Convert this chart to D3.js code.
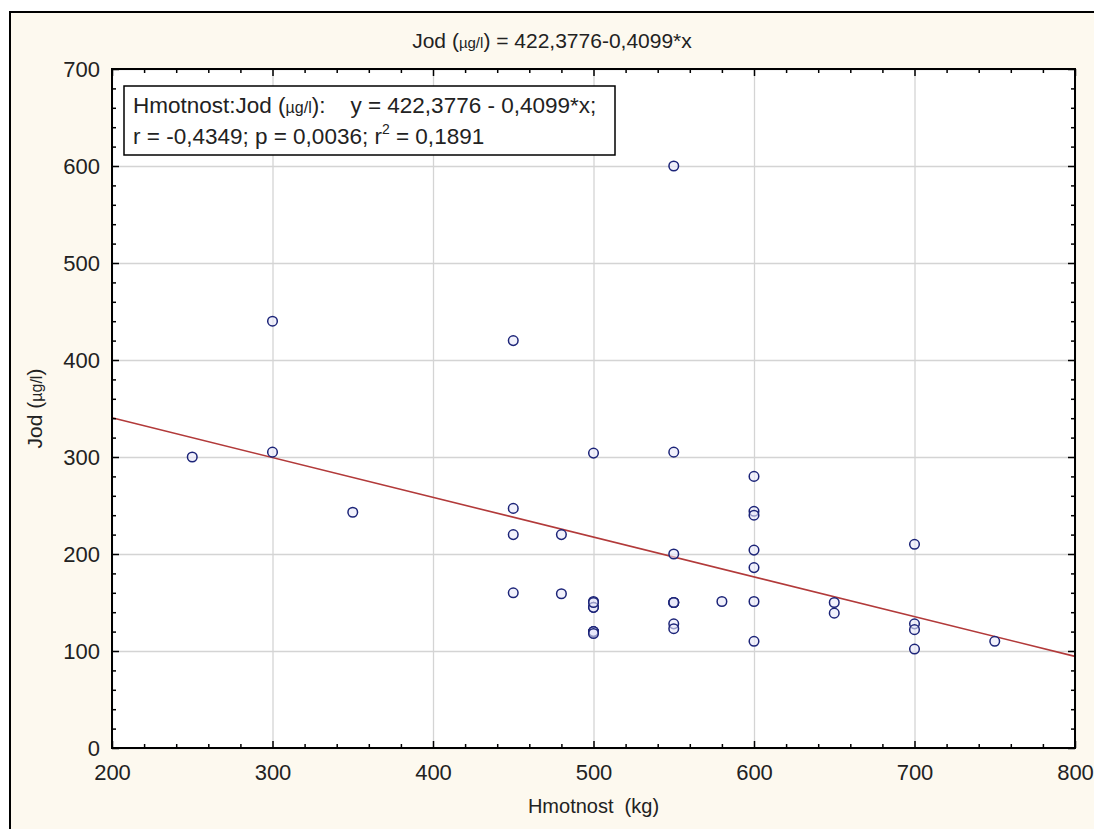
<!DOCTYPE html>
<html>
<head>
<meta charset="utf-8">
<script src="https://cdn.jsdelivr.net/npm/d3@7"></script>
<style>
  body { margin: 0; background: #fff; }
  text { font-family: "Liberation Sans", Arial, sans-serif; fill: #222; }
</style>
</head>
<body>
<svg id="drawing_region"></svg>
<script>
// Hmotnost (kg) vs Jod (ug/l)
const hmotnost = [250, 300, 300, 350, 450, 450, 450, 450, 480, 480,
                  500, 500, 500, 500, 500, 500, 500, 500, 500,
                  550, 550, 550, 550, 550, 550, 550, 550,
                  580, 600, 600, 600, 600, 600, 600, 600,
                  650, 650, 700, 700, 700, 700, 750];
const jod = [300, 440, 305, 243, 420, 247, 220, 160, 220, 159,
             304, 151, 145, 145, 120, 120, 120, 118, 150,
             600, 305, 200, 150, 150, 150, 128, 123,
             151, 280, 244, 240, 204, 186, 151, 110,
             150, 139, 210, 128, 122, 102, 110];
const xTicks = [200, 300, 400, 500, 600, 700, 800];
const yTicks = [0, 100, 200, 300, 400, 500, 600, 700];
const intercept = 422.3776;
const slope = -0.4099;

const config = {
    width: 1094,
    height: 829,
    margin: {top: 69, right: 19, bottom: 81, left: 112}
};

const svg = d3.select('#drawing_region')
    .attr('width', config.width)
    .attr('height', config.height);

// outer panel
svg.append('rect')
    .attr('x', 10).attr('y', 12)
    .attr('width', config.width).attr('height', config.height)
    .attr('fill', '#fdf9ef')
    .attr('stroke', '#000')
    .attr('stroke-width', 2);

const innerW = config.width - config.margin.left - config.margin.right;
const innerH = config.height - config.margin.top - config.margin.bottom;

const chart = svg.append('g')
    .attr('transform', `translate(${config.margin.left}, ${config.margin.top})`);

const xscale = d3.scaleLinear().domain([200, 800]).range([0, innerW]);
const yscale = d3.scaleLinear().domain([0, 700]).range([innerH, 0]);

chart.append('rect')
    .attr('width', innerW).attr('height', innerH)
    .attr('fill', '#fff');

// grid
chart.append('g')
    .attr('transform', `translate(0, ${innerH})`)
    .call(d3.axisBottom(xscale).tickValues(xTicks).tickSize(-innerH).tickFormat(''))
    .call(g => g.select('.domain').remove())
    .selectAll('line').attr('stroke', '#d4d4d4').attr('stroke-width', 1.3);

chart.append('g')
    .call(d3.axisLeft(yscale).tickValues(yTicks).tickSize(-innerW).tickFormat(''))
    .call(g => g.select('.domain').remove())
    .selectAll('line').attr('stroke', '#d4d4d4').attr('stroke-width', 1.3);

// regression line
chart.append('line')
    .attr('x1', xscale(200)).attr('y1', yscale(intercept + slope * 200))
    .attr('x2', xscale(800)).attr('y2', yscale(intercept + slope * 800))
    .attr('stroke', '#b23a3a')
    .attr('stroke-width', 1.6);

// points
chart.selectAll('circle')
    .data(hmotnost.map((d, i) => [d, jod[i]]))
    .enter()
    .append('circle')
    .attr('cx', d => xscale(d[0]))
    .attr('cy', d => yscale(d[1]))
    .attr('r', 4.8)
    .attr('fill', '#e8e8fa')
    .attr('fill-opacity', 0.6)
    .attr('stroke', '#1c2478')
    .attr('stroke-width', 1.5);

// inward ticks on all four sides
const xMinor = d3.range(200, 801, 20).filter(v => !xTicks.includes(v));
const yMinor = d3.range(0, 701, 20).filter(v => !yTicks.includes(v));

function tickAxis(axis, pos, values, size) {
    const g = chart.append('g')
        .attr('transform', pos)
        .call(axis.tickValues(values).tickSize(size).tickFormat('').tickSizeOuter(0));
    g.select('.domain').remove();
    g.selectAll('line').attr('stroke', '#000').attr('stroke-width', 1.5);
}
tickAxis(d3.axisBottom(xscale), `translate(0, ${innerH})`, xMinor, -4);
tickAxis(d3.axisTop(xscale), 'translate(0, 0)', xMinor, -4);
tickAxis(d3.axisTop(xscale), 'translate(0, 0)', xTicks, -7);
tickAxis(d3.axisLeft(yscale), 'translate(0, 0)', yMinor, -4);
tickAxis(d3.axisRight(yscale), `translate(${innerW}, 0)`, yMinor, -4);
tickAxis(d3.axisRight(yscale), `translate(${innerW}, 0)`, yTicks, -7);

// major axes with labels
const xaxis_group = chart.append('g')
    .attr('transform', `translate(0, ${innerH})`)
    .call(d3.axisBottom(xscale).tickValues(xTicks).tickSize(-7).tickSizeOuter(0).tickPadding(16));

const yaxis_group = chart.append('g')
    .call(d3.axisLeft(yscale).tickValues(yTicks).tickSize(-7).tickSizeOuter(0).tickPadding(12));

[xaxis_group, yaxis_group].forEach(g => {
    g.select('.domain').remove();
    g.selectAll('line').attr('stroke', '#000').attr('stroke-width', 1.5);
    g.selectAll('text')
        .attr('font-size', '22px')
        .attr('font-family', '"Liberation Sans", Arial, sans-serif')
        .attr('fill', '#2a2a2a');
});

// frame
chart.append('rect')
    .attr('width', innerW).attr('height', innerH)
    .attr('fill', 'none')
    .attr('stroke', '#000')
    .attr('stroke-width', 2);

// axis labels
chart.append('text')
    .attr('x', innerW / 2)
    .attr('y', innerH + 65)
    .attr('text-anchor', 'middle')
    .attr('font-size', '20px')
    .text('Hmotnost\u00a0 (kg)');

const ylab = chart.append('text')
    .attr('transform', `translate(-70, ${innerH / 2}) rotate(-90)`)
    .attr('text-anchor', 'middle')
    .attr('font-size', '21px');
ylab.append('tspan').text('Jod (');
ylab.append('tspan').attr('font-size', '16px').text('µg/l');
ylab.append('tspan').text(')');

// title
const title = svg.append('text')
    .attr('x', 552)
    .attr('y', 48)
    .attr('text-anchor', 'middle')
    .attr('font-size', '21px');
title.append('tspan').text('Jod (');
title.append('tspan').attr('font-size', '15px').text('µg/l');
title.append('tspan').text(') = 422,3776-0,4099*x');

// legend box
const legend = chart.append('g').attr('transform', 'translate(12, 17)');
legend.append('rect')
    .attr('width', 491).attr('height', 69)
    .attr('fill', '#fff')
    .attr('stroke', '#000')
    .attr('stroke-width', 1.5);

const l1 = legend.append('text').attr('x', 9).attr('y', 27).attr('font-size', '22.5px');
l1.append('tspan').text('Hmotnost:Jod (');
l1.append('tspan').attr('font-size', '16px').text('µg/l');
l1.append('tspan').text('):\u00a0\u00a0\u00a0 y = 422,3776 - 0,4099*x;');

const l2 = legend.append('text').attr('x', 9).attr('y', 58).attr('font-size', '22.5px');
l2.append('tspan').text('r = -0,4349; p = 0,0036; r');
l2.append('tspan').attr('font-size', '14px').attr('dy', -10).text('2');
l2.append('tspan').attr('dy', 10).text(' = 0,1891');
</script>
</body>
</html>
